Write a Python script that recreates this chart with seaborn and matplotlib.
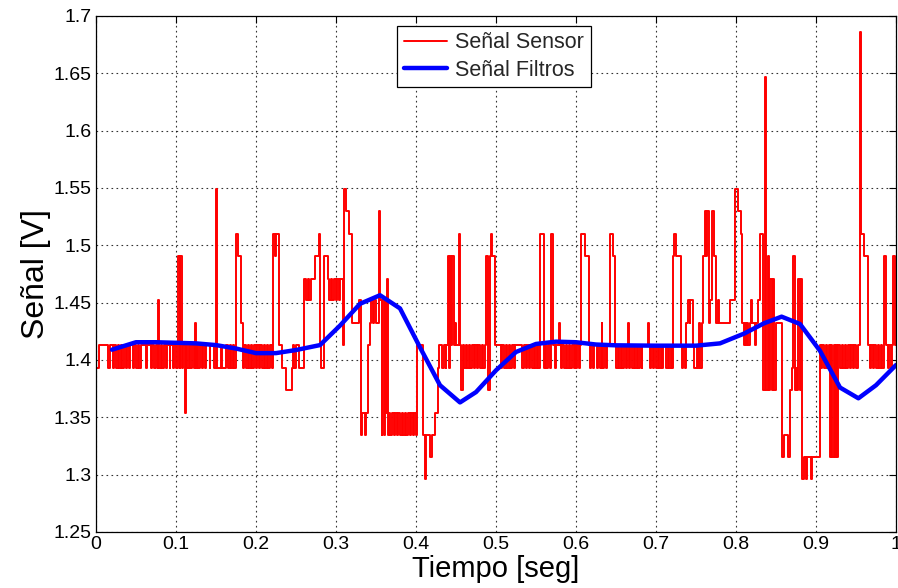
import matplotlib
matplotlib.use("Agg")
import matplotlib.pyplot as plt
import seaborn as sns
import pandas as pd
import numpy as np

# ---- Sensor signal (step breakpoints: time [s], value [V]) ----
sensor_a = [(0.000,1.393),(0.004,1.413),(0.015,1.393),(0.017,1.413),(0.021,1.393),(0.023,1.413),(0.025,1.393),(0.027,1.413),
    (0.029,1.393),(0.031,1.413),(0.033,1.393),(0.035,1.413),(0.037,1.393),(0.039,1.413),(0.041,1.393),(0.042,1.413),
    (0.046,1.393),(0.048,1.413),(0.050,1.393),(0.052,1.413),(0.054,1.393),(0.056,1.413),(0.062,1.393),(0.064,1.413),
    (0.069,1.393),(0.070,1.413),(0.073,1.393),(0.075,1.413),(0.077,1.393),(0.078,1.452),(0.079,1.393),(0.081,1.413),
    (0.083,1.393),(0.085,1.413),(0.087,1.393),(0.0885,1.413),(0.092,1.393),(0.093,1.413),(0.096,1.393),(0.098,1.413),
    (0.100,1.393),(0.102,1.413),(0.103,1.491),(0.1045,1.393),(0.1055,1.491),(0.1075,1.393),(0.109,1.413),(0.1115,1.354),
    (0.1125,1.413),(0.114,1.393),(0.116,1.413),(0.118,1.393),(0.120,1.413),(0.122,1.393),(0.1235,1.432),(0.1245,1.393),
    (0.126,1.413),(0.128,1.393),(0.130,1.413),(0.132,1.393),(0.134,1.413),(0.136,1.393),(0.1375,1.413),(0.142,1.393),
    (0.143,1.413),(0.148,1.393),(0.1505,1.549),(0.1515,1.393),(0.156,1.413),(0.1575,1.393),(0.162,1.413),(0.165,1.393),
    (0.167,1.413),(0.169,1.393),(0.171,1.413),(0.173,1.393),(0.175,1.510),(0.177,1.491),(0.181,1.432),(0.1835,1.393),
    (0.1855,1.413),(0.1875,1.393),(0.1895,1.413),(0.1915,1.393),(0.1935,1.413),(0.1955,1.393),(0.1975,1.413),(0.1995,1.393),
    (0.2015,1.413),(0.2035,1.393),(0.2055,1.413),(0.2075,1.393),(0.2095,1.413),(0.2115,1.393),(0.2135,1.413),(0.2155,1.393),
    (0.2175,1.413),(0.2195,1.393),(0.221,1.413),(0.2215,1.510),(0.2235,1.491),(0.2245,1.510),(0.2285,1.413),(0.2325,1.393),
    (0.237,1.374),(0.2445,1.393),(0.2465,1.413),(0.248,1.393)]

sensor_b = [(0.250,1.413),(0.2535,1.393),(0.2605,1.471),(0.2625,1.452),(0.2645,1.471),(0.2665,1.452),(0.2685,1.471),
    (0.274,1.491),(0.279,1.510),(0.2805,1.413),(0.2815,1.393),(0.2855,1.491),(0.2895,1.471),(0.2915,1.452),(0.2935,1.471),
    (0.2955,1.452),(0.2975,1.471),(0.2995,1.452),(0.3015,1.471),(0.3035,1.452),(0.3045,1.471),(0.3085,1.413),(0.3105,1.549),
    (0.3125,1.530),(0.3167,1.510),(0.3195,1.432),(0.329,1.452),(0.331,1.335),(0.333,1.354),(0.336,1.335),(0.338,1.354),
    (0.340,1.413),(0.3425,1.432),(0.344,1.452),(0.346,1.432),(0.3475,1.452),(0.350,1.432),(0.354,1.530),(0.3555,1.452),
    (0.357,1.335),(0.358,1.452),(0.3595,1.335),(0.361,1.452),(0.3625,1.354),(0.3635,1.471),(0.3648,1.335),(0.3665,1.354),
    (0.368,1.335),(0.370,1.354),(0.372,1.335),(0.374,1.354),(0.376,1.335),(0.378,1.354),(0.380,1.335),(0.382,1.354),
    (0.384,1.335),(0.386,1.354),(0.388,1.335),(0.390,1.354),(0.392,1.335),(0.394,1.354),(0.396,1.335),(0.398,1.354),
    (0.400,1.335),(0.4015,1.413),(0.409,1.335),(0.4115,1.296),(0.413,1.335),(0.417,1.315),(0.420,1.335),(0.424,1.354),
    (0.427,1.393),(0.429,1.413),(0.433,1.393),(0.435,1.413),(0.437,1.393),(0.438,1.413),(0.4395,1.491),(0.441,1.393),
    (0.4425,1.491),(0.444,1.413),(0.4455,1.491),(0.447,1.413),(0.449,1.432),(0.4505,1.413),(0.4535,1.510),(0.455,1.413),
    (0.456,1.374),(0.4585,1.413),(0.460,1.393),(0.462,1.413),(0.464,1.393),(0.466,1.413),(0.468,1.393),(0.470,1.413),
    (0.472,1.393),(0.474,1.413),(0.476,1.393),(0.478,1.413),(0.480,1.393),(0.482,1.413),(0.484,1.393),(0.486,1.413),
    (0.4875,1.491),(0.4905,1.374),(0.492,1.491),(0.4935,1.510),(0.495,1.491),(0.4985,1.413)]

sensor_c = [(0.500,1.413),(0.5065,1.393),(0.508,1.413),(0.510,1.393),(0.512,1.413),(0.514,1.393),(0.516,1.413),(0.518,1.393),
    (0.520,1.413),(0.522,1.393),(0.5235,1.413),(0.533,1.393),(0.535,1.413),(0.537,1.393),(0.539,1.413),(0.541,1.393),
    (0.543,1.413),(0.545,1.393),(0.547,1.413),(0.549,1.393),(0.551,1.413),(0.553,1.393),(0.5555,1.510),(0.5595,1.393),
    (0.561,1.413),(0.563,1.393),(0.565,1.413),(0.567,1.393),(0.569,1.510),(0.5715,1.413),(0.5735,1.393),(0.575,1.413),
    (0.5785,1.432),(0.5795,1.413),(0.581,1.393),(0.583,1.413),(0.585,1.393),(0.587,1.413),(0.589,1.393),(0.591,1.413),
    (0.593,1.393),(0.595,1.413),(0.597,1.393),(0.599,1.413),(0.6005,1.393),(0.6015,1.413),(0.6035,1.393),(0.6055,1.413),
    (0.6065,1.510),(0.6115,1.491),(0.616,1.413),(0.617,1.393),(0.619,1.413),(0.621,1.393),(0.6225,1.413),(0.626,1.393),
    (0.628,1.413),(0.630,1.393),(0.632,1.432),(0.633,1.393),(0.635,1.413),(0.637,1.393),(0.639,1.413),(0.643,1.510),
    (0.6465,1.491),(0.649,1.413),(0.650,1.393),(0.652,1.413),(0.654,1.393),(0.656,1.413),(0.658,1.393),(0.660,1.413),
    (0.662,1.393),(0.664,1.413),(0.665,1.432),(0.666,1.393),(0.668,1.413),(0.670,1.393),(0.672,1.413),(0.674,1.393),
    (0.676,1.413),(0.678,1.393),(0.680,1.413),(0.682,1.393),(0.683,1.413),(0.690,1.432),(0.691,1.413),(0.692,1.393),
    (0.694,1.413),(0.696,1.393),(0.698,1.413),(0.700,1.393),(0.702,1.413),(0.704,1.393),(0.706,1.413),(0.708,1.393),
    (0.7085,1.413),(0.7125,1.393),(0.7145,1.413),(0.7165,1.393),(0.7185,1.413),(0.7205,1.393),(0.7215,1.491),(0.723,1.510),
    (0.7245,1.491),(0.731,1.413),(0.7325,1.393),(0.734,1.413),(0.736,1.393),(0.7375,1.432),(0.7405,1.452),(0.742,1.432),
    (0.743,1.452),(0.746,1.413),(0.748,1.393)]

sensor_d = [(0.7515,1.413),(0.7525,1.393),(0.754,1.432),(0.7555,1.393),(0.757,1.432),(0.7585,1.491),(0.761,1.530),
    (0.7625,1.491),(0.764,1.530),(0.7665,1.432),(0.768,1.452),(0.770,1.530),(0.773,1.491),(0.7745,1.432),(0.7775,1.452),
    (0.7785,1.432),(0.792,1.452),(0.799,1.549),(0.8025,1.530),(0.806,1.510),(0.808,1.432),(0.8095,1.413),(0.811,1.432),
    (0.8125,1.413),(0.814,1.432),(0.8155,1.413),(0.817,1.432),(0.8185,1.452),(0.8195,1.432),(0.8235,1.413),(0.8245,1.432),
    (0.827,1.452),(0.8295,1.510),(0.8335,1.374),(0.8365,1.647),(0.838,1.374),(0.8395,1.491),(0.841,1.374),(0.8425,1.471),
    (0.8445,1.374),(0.8465,1.471),(0.848,1.374),(0.8505,1.432),(0.857,1.315),(0.8595,1.335),(0.8645,1.315),(0.8675,1.374),
    (0.870,1.393),(0.8715,1.491),(0.8735,1.374),(0.875,1.393),(0.8765,1.374),(0.878,1.471),(0.8795,1.374),(0.881,1.471),
    (0.882,1.296),(0.8855,1.315),(0.8875,1.296),(0.889,1.315),(0.8935,1.296),(0.8955,1.315),(0.9045,1.413),(0.906,1.393),
    (0.908,1.413),(0.910,1.393),(0.912,1.413),(0.914,1.393),(0.916,1.413),(0.9175,1.315),(0.919,1.413),(0.9205,1.315),
    (0.922,1.413),(0.9235,1.315),(0.925,1.413),(0.9265,1.315),(0.928,1.413),(0.930,1.393),(0.932,1.413),(0.934,1.393),
    (0.936,1.413),(0.938,1.393),(0.940,1.413),(0.942,1.393),(0.944,1.413),(0.946,1.393),(0.948,1.413),(0.950,1.393),
    (0.952,1.413),(0.9545,1.686),(0.956,1.510),(0.9605,1.491),(0.9655,1.413),(0.967,1.393),(0.969,1.413),(0.971,1.393),
    (0.973,1.413),(0.975,1.393),(0.977,1.413),(0.979,1.393),(0.981,1.413),(0.983,1.393),(0.985,1.413),(0.9855,1.491),
    (0.9875,1.413),(0.9895,1.393),(0.9915,1.413),(0.9935,1.393),(0.9955,1.413),(0.9965,1.491),(0.999,1.413),(1.000,1.413)]

# ---- Filtered signal (vertices) ----
filt_t = [0.02, 0.05, 0.075, 0.1, 0.125, 0.15, 0.175, 0.2, 0.225, 0.25, 0.28, 0.305, 0.33, 0.355, 0.38, 0.405,
          0.43, 0.455, 0.475, 0.5, 0.525, 0.55, 0.575, 0.6, 0.625, 0.65, 0.7, 0.75, 0.78, 0.81, 0.835, 0.857,
          0.88, 0.905, 0.93, 0.953, 0.975, 1.0]
filt_v = [1.409, 1.4155, 1.4155, 1.415, 1.4145, 1.413, 1.410, 1.406, 1.406, 1.4087, 1.413, 1.430, 1.449, 1.4565,
          1.445, 1.411, 1.378, 1.363, 1.372, 1.391, 1.407, 1.414, 1.416, 1.4155, 1.4135, 1.4128, 1.4125, 1.4125,
          1.4145, 1.423, 1.432, 1.4378, 1.4314, 1.408, 1.376, 1.3666, 1.378, 1.3956]

x_ticks = [0, 0.1, 0.2, 0.3, 0.4, 0.5, 0.6, 0.7, 0.8, 0.9, 1.0]
x_labels = ["0", "0.1", "0.2", "0.3", "0.4", "0.5", "0.6", "0.7", "0.8", "0.9", "1"]
y_ticks = [1.25, 1.3, 1.35, 1.4, 1.45, 1.5, 1.55, 1.6, 1.65, 1.7]
y_labels = ["1.25", "1.3", "1.35", "1.4", "1.45", "1.5", "1.55", "1.6", "1.65", "1.7"]

sensor = sensor_a + sensor_b + sensor_c + sensor_d
df_s = pd.DataFrame(sensor, columns=["t", "v"])
df_f = pd.DataFrame({"t": filt_t, "v": filt_v})

sns.set_theme(style="white")
plt.rcParams["font.family"] = ["Liberation Sans", "DejaVu Sans"]

fig = plt.figure(figsize=(8.98, 5.88), dpi=100)
ax = fig.add_axes([96/898, 56/588, 800/898, 516/588])

sns.lineplot(data=df_s, x="t", y="v", ax=ax, color="#ff0000", linewidth=1.4,
             drawstyle="steps-post", estimator=None, sort=False, label="Señal Sensor")
sns.lineplot(data=df_f, x="t", y="v", ax=ax, color="#0000ff", linewidth=3.2,
             estimator=None, sort=False, label="Señal Filtros")

ax.set_xlim(0, 1)
ax.set_ylim(1.25, 1.7)
ax.set_xticks(x_ticks)
ax.set_xticklabels(x_labels)
ax.set_yticks(y_ticks)
ax.set_yticklabels(y_labels)
ax.grid(True, color="black", linestyle=(0, (1.5, 3)), linewidth=0.8, alpha=0.8)
ax.tick_params(direction="in", top=True, right=True, length=5, width=0.8,
               labelsize=14, colors="black", pad=3)
for s in ax.spines.values():
    s.set_color("black")
    s.set_linewidth(0.9)
ax.set_xlabel("Tiempo [seg]", fontsize=21, color="black", labelpad=1)
ax.set_ylabel("Señal [V]", fontsize=23, color="black", labelpad=2)

leg = ax.legend(loc="upper center", bbox_to_anchor=(0.4975, 0.981), fontsize=15.5,
                frameon=True, fancybox=False, framealpha=1, edgecolor="black",
                handlelength=2.0, borderpad=0.3, labelspacing=0.3, handletextpad=0.4,
                borderaxespad=0)
leg.get_frame().set_linewidth(0.9)

fig.savefig("out.png", dpi=100)
